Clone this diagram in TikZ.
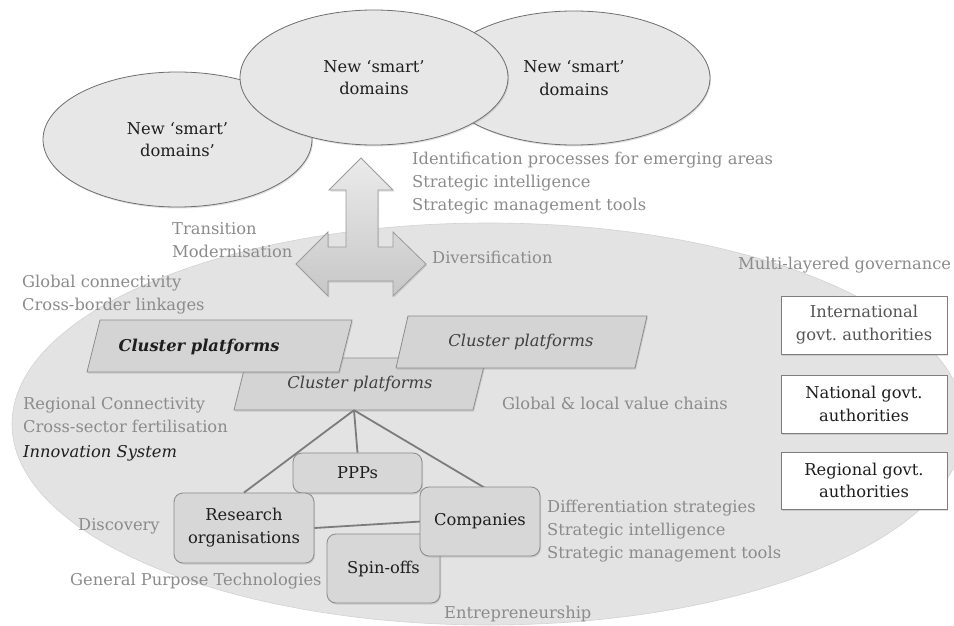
\documentclass[tikz,border=0pt]{standalone}
\usepackage{fontspec}
\setmainfont{DejaVu Serif}
\usetikzlibrary{shapes.geometric,shadows}
\frenchspacing
\definecolor{lblgray}{HTML}{8B8B8B}
\definecolor{txtdark}{HTML}{1E1E1E}
\definecolor{innofill}{HTML}{E3E3E3}
\definecolor{innoedge}{HTML}{D2D2D2}
\definecolor{domfill}{HTML}{E7E7E7}
\definecolor{domedge}{HTML}{6E6E6E}
\definecolor{platfill}{HTML}{D4D4D4}
\definecolor{platedge}{HTML}{8C8C8C}
\definecolor{boxfill}{HTML}{D7D7D7}
\definecolor{boxedge}{HTML}{8A8A8A}
\definecolor{linkgray}{HTML}{7C7C7C}
\definecolor{arrowedge}{HTML}{9A9A9A}
\definecolor{govedge}{HTML}{7E7E7E}
\definecolor{govsoft}{HTML}{555555}
\newcommand{\lblfont}{\fontsize{16.3}{22.8}\selectfont}
\begin{document}
\begin{tikzpicture}[x=1pt,y=-1pt,
  softshadow/.style={drop shadow={opacity=0.25,shadow xshift=1pt,shadow yshift=-1.5pt}},
  lbl/.style={inner sep=0pt,anchor=west,align=left,text=lblgray,font=\lblfont},
  smartell/.style={ellipse,draw=domedge,line width=0.8pt,fill=domfill,text=txtdark,
    font=\lblfont,align=center,inner sep=0pt,softshadow},
  platshape/.style={draw=platedge,line width=0.8pt,fill=platfill,softshadow},
  plattext/.style={inner sep=0pt,font=\lblfont\itshape,text=txtdark!85},
  rbox/.style={rectangle,rounded corners=9pt,draw=boxedge,line width=0.8pt,fill=boxfill,
    text=txtdark,font=\lblfont,align=center,inner sep=0pt,softshadow},
  gov/.style={rectangle,draw=govedge,fill=white,line width=0.8pt,minimum width=166pt,
    font=\lblfont,align=center,text=txtdark,inner sep=0pt,softshadow},
  link/.style={draw=linkgray,line width=1.8pt},
  teearrow/.style={draw=arrowedge,line width=0.8pt,top color=white!92!black,bottom color=white!78!black,softshadow}
]
\useasboundingbox (0,0) rectangle (954,626);

% innovation system ellipse
\node[ellipse,fill=innofill,draw=innoedge,line width=0.6pt,minimum width=953pt,minimum height=402pt,inner sep=0pt] (inno) at (488.5,424) {};

% new smart domains
\node[smartell,minimum width=269pt,minimum height=135pt] (dom1) at (177.5,139.5) {New ‘smart’\\domains’};
\node[smartell,minimum width=272pt,minimum height=134pt] (dom3) at (574,78) {New ‘smart’\\domains};
\node[smartell,minimum width=268pt,minimum height=135pt] (dom2) at (374,77.5) {New ‘smart’\\domains};

% three-way arrow
\draw[teearrow] (361,158) -- (393,190) -- (378,190) -- (378,247) -- (393,247) -- (393,232)
  -- (426,264) -- (393,296) -- (393,281) -- (328,281) -- (328,296) -- (296,264)
  -- (328,232) -- (328,247) -- (346,247) -- (346,190) -- (329,190) -- cycle;

% gray labels
\node[lbl] (idlbl) at (412,183) {Identification processes for emerging areas\\Strategic intelligence\\Strategic management tools};
\node[lbl] (trlbl) at (172,240) {Transition\\Modernisation};
\node[lbl] (divlbl) at (432,257) {Diversification};
\node[lbl] (mlglbl) at (738,265) {Multi-layered governance};
\node[lbl] (gclbl) at (22,294.5) {Global connectivity\\Cross-border linkages};
\node[lbl] (rclbl) at (23,415) {Regional Connectivity\\Cross-sector fertilisation};
\node[lbl,text=txtdark,font=\lblfont\itshape] (islbl) at (23,453) {Innovation System};
\node[lbl] (glvlbl) at (502,403) {Global \& local value chains};
\node[lbl] (dislbl) at (78,526) {Discovery};
\node[lbl] (gptlbl) at (70,581) {General Purpose Technologies};
\node[lbl] (difflbl) at (547,531) {Differentiation strategies\\Strategic intelligence\\Strategic management tools};
\node[lbl] (entlbl) at (444,614) {Entrepreneurship};

% cluster platforms (parallelograms)
\draw[platshape] (247,358) -- (486,358) -- (473,410) -- (234,410) -- cycle;
\node[plattext,minimum width=236pt,minimum height=52pt] (plat3) at (360,384) {Cluster platforms};
\draw[platshape] (100,320) -- (352,320) -- (339,372) -- (87,372) -- cycle;
\node[plattext,font=\lblfont\bfseries\itshape,text=txtdark] (plat1) at (199,347) {Cluster platforms};
\draw[platshape] (408,316) -- (647,316) -- (635,368) -- (396,368) -- cycle;
\node[plattext] (plat2) at (521,342) {Cluster platforms};

% connectors from the central platform
\coordinate (apex) at ([xshift=-6pt]plat3.south);
\node[rbox,minimum width=129pt,minimum height=40pt] (ppp) at (357.5,473) {PPPs};
\coordinate (comptop) at (485,488);
\coordinate (compleft) at (421,521.5);
\draw[link] (apex) -- (ppp.north);
\draw[link] (apex) -- (comptop);
\node[rbox,minimum width=140pt,minimum height=70pt] (research) at (244,528) {Research\\organisations};
\draw[link] (apex) -- (research.north);
\draw[link] (research.east) -- (compleft);
\node[rbox,minimum width=113pt,minimum height=69pt] (spin) at (383.5,568.5) {Spin-offs};
\node[rbox,minimum width=120pt,minimum height=69pt] (companies) at (480,521.5) {Companies};

% governance boxes
\node[gov,minimum height=58pt,text=govsoft] (intl) at (864,325) {International\\govt. authorities};
\node[gov,minimum height=58pt] (natl) at (864,404) {National govt.\\authorities};
\node[gov,minimum height=57pt] (regl) at (864,480.5) {Regional govt.\\authorities};
\end{tikzpicture}
\end{document}
